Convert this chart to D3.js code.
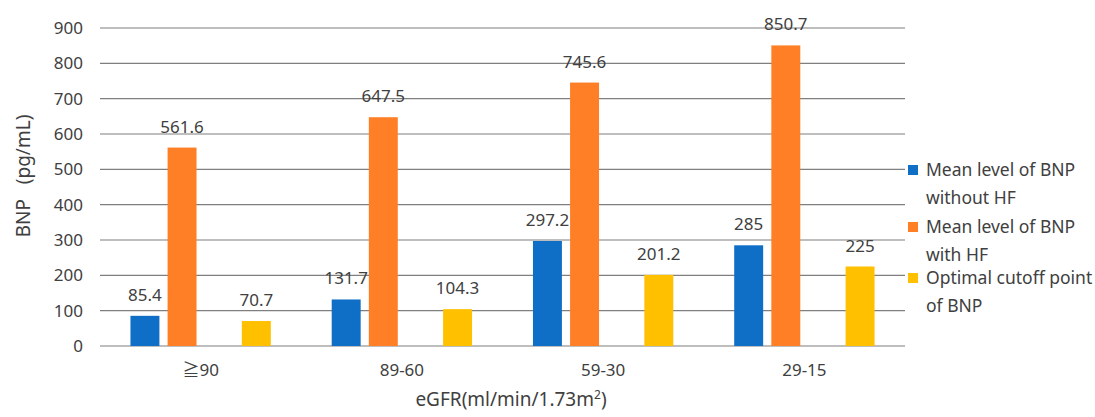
<!DOCTYPE html>
<html>
<head>
<meta charset="utf-8">
<script src="https://cdn.jsdelivr.net/npm/d3@7"></script>
<style>
  body { margin: 0; background: #fff; }
  svg text { font-family: "Noto Sans", "Noto Sans CJK JP", sans-serif; fill: #404040; }
</style>
</head>
<body>
<script>
// data
const categories = ['≧90', '89-60', '59-30', '29-15'];
const withoutHF = [85.4, 131.7, 297.2, 285];
const withHF = [561.6, 647.5, 745.6, 850.7];
const cutoff = [70.7, 104.3, 201.2, 225];
const yTicks = [0, 100, 200, 300, 400, 500, 600, 700, 800, 900];

// the original has an empty slot between the 2nd and 3rd bars
const series = [
  { key: 'a', name: ['Mean level of BNP', 'without HF'], values: withoutHF, color: '#0F6FC6' },
  { key: 'b', name: ['Mean level of BNP', 'with HF'], values: withHF, color: '#FF7F27' },
  { key: 'gap', name: null, values: null, color: null },
  { key: 'c', name: ['Optimal cutoff point', 'of BNP'], values: cutoff, color: '#FFC000' }
];

const width = 1095, height = 417;
const margin = { top: 28, right: 190, bottom: 71, left: 100 };
const innerW = 905 - margin.left;
const innerH = 346 - margin.top;

const svg = d3.select('body').append('svg')
  .attr('width', width)
  .attr('height', height);

const g = svg.append('g')
  .attr('transform', `translate(${margin.left},${margin.top})`);

const x0 = d3.scaleBand().domain(categories).range([0, innerW]);
const x1 = d3.scaleBand()
  .domain(series.map(s => s.key))
  .range([0, x0.bandwidth()])
  .paddingInner(0.22)
  .paddingOuter(0.82);
const y = d3.scaleLinear().domain([0, 900]).range([innerH, 0]);

// gridlines
g.selectAll('.grid')
  .data(yTicks)
  .enter()
  .append('line')
  .attr('x1', 0)
  .attr('x2', innerW)
  .attr('y1', d => y(d))
  .attr('y2', d => y(d))
  .attr('stroke', '#7f7f7f')
  .attr('stroke-width', 1.2);

// y axis labels
const yAxis = g.append('g')
  .call(d3.axisLeft(y).tickValues(yTicks).tickSize(0).tickPadding(17));
yAxis.select('.domain').remove();
yAxis.selectAll('text')
  .attr('font-size', '17px')
  .attr('font-family', null)
  .attr('fill', '#404040');

// x axis labels
const xAxis = g.append('g')
  .attr('transform', `translate(0,${innerH})`)
  .call(d3.axisBottom(x0).tickSize(0).tickPadding(18));
xAxis.select('.domain').remove();
xAxis.selectAll('text')
  .attr('font-size', '17px')
  .attr('font-family', null)
  .attr('fill', '#404040');

// bars
const bars = series.filter(s => s.values);
bars.forEach(s => {
  const grp = g.append('g');
  grp.selectAll('rect')
    .data(s.values)
    .enter()
    .append('rect')
    .attr('x', (d, i) => x0(categories[i]) + x1(s.key))
    .attr('y', d => y(d))
    .attr('width', x1.bandwidth())
    .attr('height', d => innerH - y(d))
    .attr('fill', s.color);

  grp.selectAll('text')
    .data(s.values)
    .enter()
    .append('text')
    .attr('x', (d, i) => x0(categories[i]) + x1(s.key) + x1.bandwidth() / 2)
    .attr('y', d => y(d) - 15)
    .attr('text-anchor', 'middle')
    .attr('font-size', '17px')
    .text(d => d);
});

// axis titles
svg.append('text')
  .attr('transform', 'translate(30,176) rotate(-90)')
  .attr('text-anchor', 'middle')
  .attr('font-size', '19px')
  .attr('xml:space', 'preserve')
  .text('BNP   (pg/mL)');

const xt = svg.append('text')
  .attr('x', 511)
  .attr('y', 406)
  .attr('text-anchor', 'middle')
  .attr('font-size', '19px')
  .text('eGFR(ml/min/1.73m');
xt.append('tspan').attr('font-size', '12px').attr('dy', -7).text('2');
xt.append('tspan').attr('dy', 7).text(')');

// legend
const legendTop = [170, 227, 278];
const legend = svg.append('g');
bars.forEach((s, i) => {
  const ly = legendTop[i];
  legend.append('rect')
    .attr('x', 908)
    .attr('y', ly - 5)
    .attr('width', 10)
    .attr('height', 10)
    .attr('fill', s.color);
  s.name.forEach((line, j) => {
    legend.append('text')
      .attr('x', 926)
      .attr('y', ly + 6 + j * 28)
      .attr('font-size', '17.5px')
      .text(line);
  });
});
</script>
</body>
</html>
